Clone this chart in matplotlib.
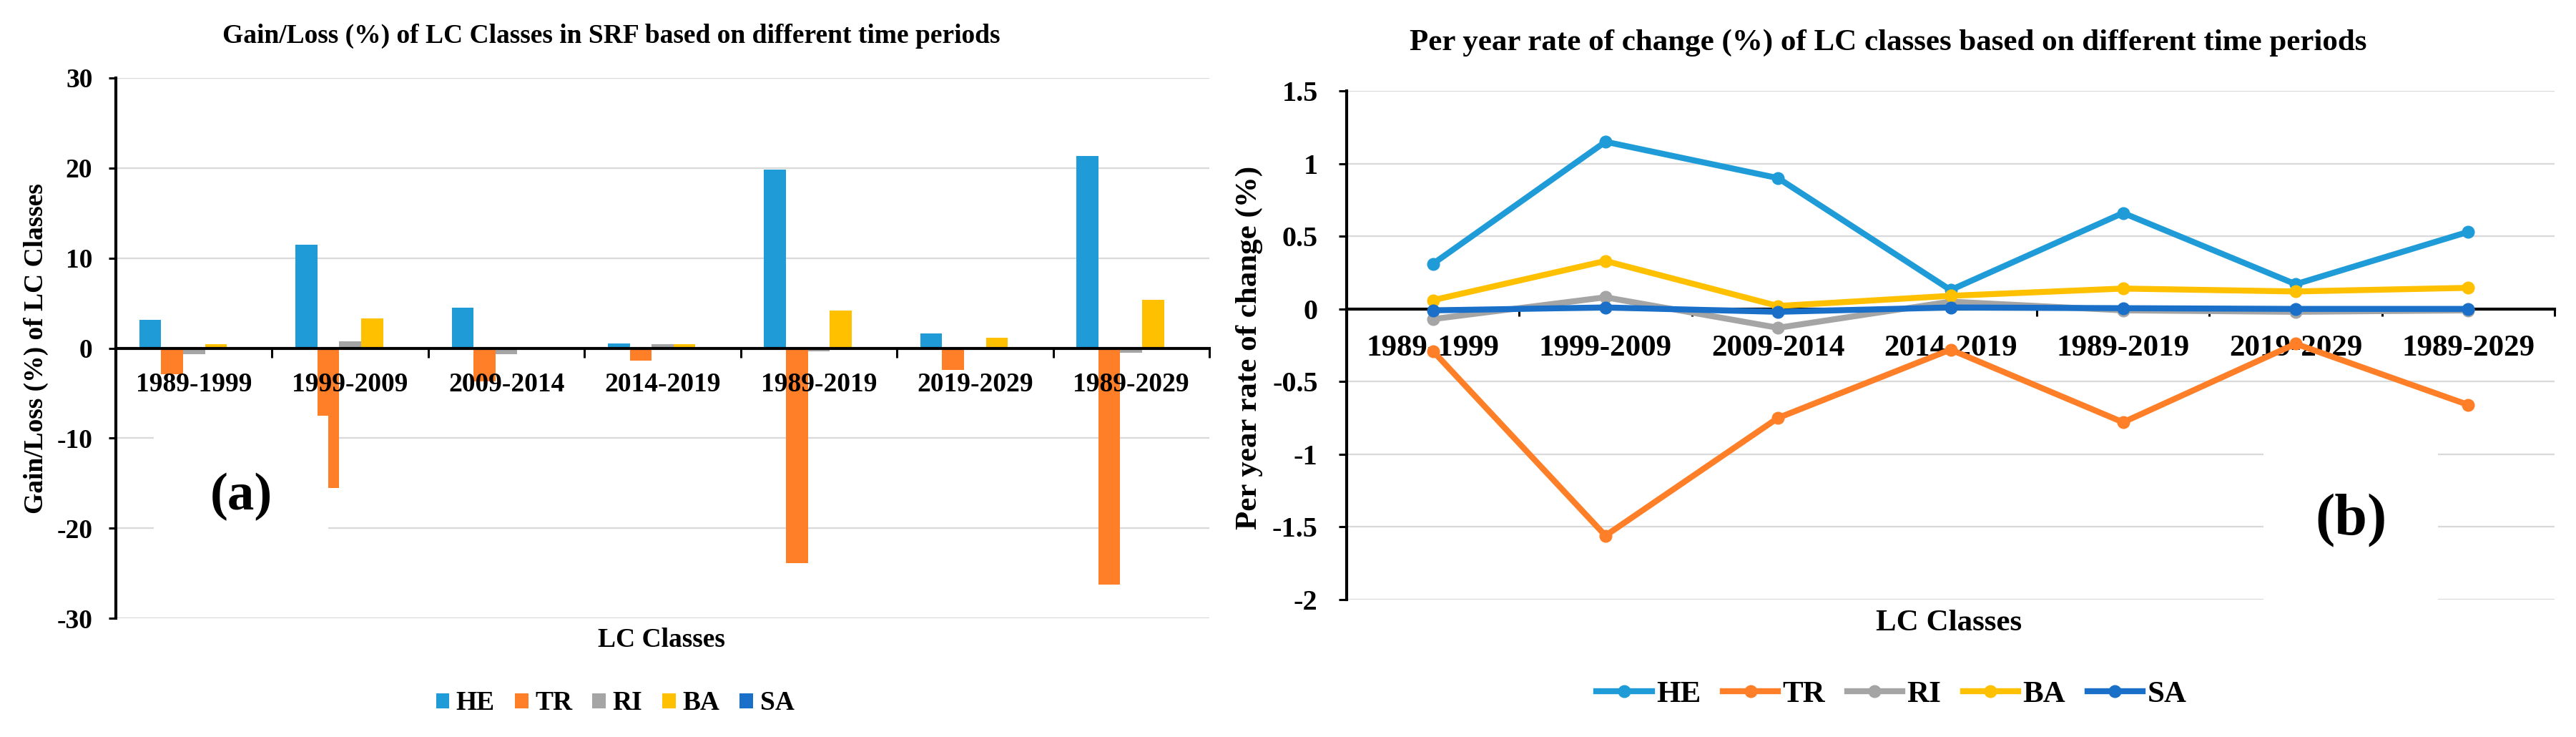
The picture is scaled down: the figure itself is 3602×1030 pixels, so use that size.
import matplotlib.pyplot as plt
from matplotlib.ticker import FuncFormatter
import numpy as np

plt.rcParams['font.family'] = ['Liberation Serif', 'DejaVu Serif']
plt.rcParams['font.weight'] = 'bold'
plt.rcParams['axes.unicode_minus'] = False

periods = ["1989-1999", "1999-2009", "2009-2014", "2014-2019",
           "1989-2019", "2019-2029", "1989-2029"]
classes = ["HE", "TR", "RI", "BA", "SA"]
colors = ["#1f9cd8", "#fe7f27", "#a5a5a5", "#ffc000", "#1a70c8"]

# (a) gain/loss (%) of each class
gain_he = [3.1, 11.5, 4.5, 0.55, 19.8, 1.6, 21.3]
gain_tr = [-2.9, -15.5, -3.7, -1.4, -23.9, -2.4, -26.3]
gain_ri = [-0.7, 0.75, -0.7, 0.4, -0.35, -0.05, -0.5]
gain_ba = [0.4, 3.3, 0.0, 0.4, 4.2, 1.15, 5.4]
gain_sa = [0.0, 0.0, 0.0, 0.0, 0.0, 0.0, 0.0]

# (b) per year rate of change (%)
rate_he = [0.31, 1.15, 0.90, 0.13, 0.66, 0.17, 0.53]
rate_tr = [-0.29, -1.56, -0.75, -0.28, -0.78, -0.24, -0.66]
rate_ri = [-0.07, 0.08, -0.13, 0.05, -0.01, -0.02, -0.01]
rate_ba = [0.06, 0.33, 0.02, 0.09, 0.14, 0.12, 0.145]
rate_sa = [-0.01, 0.01, -0.02, 0.01, 0.005, 0.0, 0.0]

W, H = 3602, 1030
fig = plt.figure(figsize=(W / 100, H / 100), dpi=100)

def px(x, y):
    # pixel position (from top-left) -> figure fraction
    return x / W, 1 - y / H

def style_axes(ax, fs, tick_fs, ylen, xlen, ypad, xpad):
    ax.set_xlim(-0.5, len(periods) - 0.5)
    for s in ['top', 'right']:
        ax.spines[s].set_visible(False)
    ax.spines['bottom'].set_position(('data', 0))
    ax.spines['left'].set_linewidth(3)
    ax.spines['bottom'].set_linewidth(3)
    ax.yaxis.grid(True, color='#d9d9d9', lw=1.6)
    ax.yaxis.set_zorder(0.5)
    ax.set_xticks(np.arange(-0.5, len(periods), 1))
    ax.set_xticklabels([])
    ax.set_xticks(np.arange(len(periods)), minor=True)
    ax.set_xticklabels(periods, minor=True, fontsize=fs)
    ax.tick_params(axis='x', which='major', direction='out', length=xlen, width=2.2)
    ax.tick_params(axis='x', which='minor', length=0, pad=xpad)
    ax.tick_params(axis='y', direction='out', length=ylen, width=2.2,
                   labelsize=tick_fs, pad=ypad)
    ax.yaxis.set_major_formatter(FuncFormatter(lambda v, p: f"{v:g}"))

# ---- panel (a): bars ----
ax1 = fig.add_axes([162 / W, 1 - 864 / H, (1691 - 162) / W, (864 - 109) / H])
x = np.arange(len(periods))
bw = 0.14
gain = [gain_he, gain_tr, gain_ri, gain_ba, gain_sa]
for i, vals in enumerate(gain):
    ax1.bar(x + (i - 2) * bw, vals, bw, color=colors[i], label=classes[i], zorder=2)
ax1.set_ylim(-30, 30)
ax1.set_yticks(np.arange(-30, 31, 10))
style_axes(ax1, 27, 27, 7.5, 9.5, 16, 24)
ax1.xaxis.set_zorder(3)

ax1.legend(loc='center', bbox_to_anchor=px(860, 983), bbox_transform=fig.transFigure,
           ncol=5, frameon=False, fontsize=27, handlelength=0.5, handleheight=0.5,
           handletextpad=0.25, columnspacing=0.75)

fig.text(*px(855, 50), "Gain/Loss (%) of LC Classes in SRF based on different time periods",
         fontsize=27, ha='center', va='center')
fig.text(*px(50, 487), "Gain/Loss (%) of LC Classes", fontsize=27, rotation=90,
         ha='center', va='center')
fig.text(*px(925, 894), "LC Classes", fontsize=27, ha='center', va='center')
fig.text(*px(337, 694), "(a)", fontsize=54, ha='center', va='center', zorder=5,
         bbox=dict(boxstyle='square,pad=1.05', fc='white', ec='none'))

# ---- panel (b): lines ----
ax2 = fig.add_axes([1883 / W, 1 - 838 / H, (3572 - 1883) / W, (838 - 127) / H])
rates = [rate_he, rate_tr, rate_ri, rate_ba, rate_sa]
for i, vals in enumerate(rates):
    ax2.plot(x, vals, '-o', color=colors[i], lw=6, ms=12, label=classes[i],
             zorder=2 + i * 0.1)
ax2.set_ylim(-2, 1.5)
ax2.set_yticks(np.arange(-2, 1.51, 0.5))
style_axes(ax2, 31, 29, 8, 7.5, 21, 26)
ax2.xaxis.set_zorder(0.6)
for s in ax2.spines.values():
    s.set_zorder(1)

ax2.legend(loc='center', bbox_to_anchor=px(2645, 970), bbox_transform=fig.transFigure,
           ncol=5, frameon=False, fontsize=31, handlelength=1.8,
           handletextpad=0.15, columnspacing=0.7)

fig.text(*px(2640, 60), "Per year rate of change (%) of LC classes based on different time periods",
         fontsize=31, ha='center', va='center')
fig.text(*px(1747, 486), "Per year rate of change (%)", fontsize=31, rotation=90,
         ha='center', va='center')
fig.text(*px(2725, 871), "LC Classes", fontsize=31, ha='center', va='center')
fig.text(*px(3287, 728), "(b)", fontsize=59, ha='center', va='center', zorder=5,
         bbox=dict(boxstyle='square,pad=0.88', fc='white', ec='none'))

fig.savefig('out.png', dpi=100)
